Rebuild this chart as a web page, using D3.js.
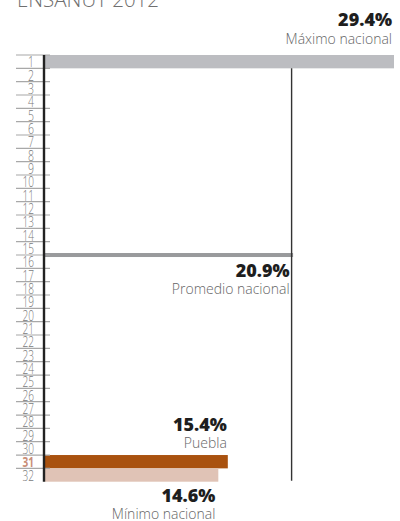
<!DOCTYPE html>
<html><head><meta charset="utf-8">
<script src="https://cdn.jsdelivr.net/npm/d3@7"></script>
<style>body{margin:0;background:#fff}svg{display:block}</style>
</head><body>
<svg id="c" width="400" height="521"></svg>
<script>
const title = "ENSANUT 2012";
const ranks = d3.range(1, 33);
const barRanks = [1, 31, 32];
const barValues = [29.4, 15.4, 14.6];
const barColors = ["#bcbdc1", "#a9520f", "#e0c3b6"];
const barLabels = ["Máximo nacional", "Puebla", "Mínimo nacional"];
const barValueText = ["29.4%", "15.4%", "14.6%"];
const averageValue = 20.9;
const averageRank = 16;
const averageLabel = "Promedio nacional";
const averageText = "20.9%";
const highlightRank = 31;

const svg = d3.select("#c");
const x = d3.scaleLinear().domain([0, 29.4]).range([45, 394]);
const y = d3.scaleBand().domain(ranks).range([55, 481.7]).padding(0);
const rh = y.bandwidth();
const font = "'Open Sans', 'DejaVu Sans', sans-serif";

svg.append("text").attr("x", 17).attr("y", 7).text(title)
  .attr("font-family", font).attr("font-weight", 300).attr("font-size", 20.5)
  .attr("fill", "#6f6f6f");

// bars
svg.selectAll("rect.bar").data(barRanks).join("rect")
  .attr("x", x(0)).attr("y", d => y(d))
  .attr("width", (d, i) => x(barValues[i]) - x(0))
  .attr("height", rh)
  .attr("fill", (d, i) => barColors[i]);

// average bar
svg.append("rect").attr("x", x(0)).attr("y", y(averageRank) - 2)
  .attr("width", x(averageValue) - x(0)).attr("height", 4).attr("fill", "#999a9c");

// average vertical line
svg.append("line").attr("x1", x(averageValue) - 1.5).attr("x2", x(averageValue) - 1.5)
  .attr("y1", y(2)).attr("y2", y(32) + rh - 1)
  .attr("stroke", "#333").attr("stroke-width", 1.4);

// row separators
svg.selectAll("line.sep").data(ranks).join("line")
  .attr("x1", 16).attr("x2", 50)
  .attr("y1", d => y(d)).attr("y2", d => y(d))
  .attr("stroke", "#a8a8a8").attr("stroke-width", 1.2);

// row labels
svg.selectAll("text.rk").data(ranks).join("text")
  .attr("x", 34).attr("y", d => y(d) + rh - 1)
  .attr("text-anchor", "end")
  .attr("font-family", font)
  .attr("font-size", 14)
  .attr("font-weight", d => d === highlightRank ? 700 : 300)
  .attr("fill", d => d === highlightRank ? "#c98e78" : "#7a7a7a")
  .attr("textLength", d => String(d).length > 1 ? 11.5 : 6)
  .attr("lengthAdjust", "spacingAndGlyphs")
  .text(d => d);

// axis
svg.append("line").attr("x1", 44).attr("x2", 44)
  .attr("y1", y(1)).attr("y2", y(32) + rh)
  .attr("stroke", "#222").attr("stroke-width", 2.4);

// annotations
const ann = [
  {v: barValueText[0], l: barLabels[0], x: x(barValues[0]) - 2, y: 26},
  {v: averageText, l: averageLabel, x: x(averageValue) - 3.5, y: 276.5},
  {v: barValueText[1], l: barLabels[1], x: x(barValues[1]) - 1, y: 430.5},
  {v: barValueText[2], l: barLabels[2], x: x(barValues[2]) - 3, y: 501.5}
];
ann.forEach(a => {
  svg.append("text").attr("x", a.x).attr("y", a.y).attr("text-anchor", "end")
    .attr("font-family", font).attr("font-weight", 800).attr("font-size", 18)
    .attr("fill", "#1e1e1e").text(a.v);
  svg.append("text").attr("x", a.x).attr("y", a.y + 17.5).attr("text-anchor", "end")
    .attr("font-family", font).attr("font-weight", 300).attr("font-size", 14)
    .attr("fill", "#666").text(a.l);
});
</script>
</body></html>
